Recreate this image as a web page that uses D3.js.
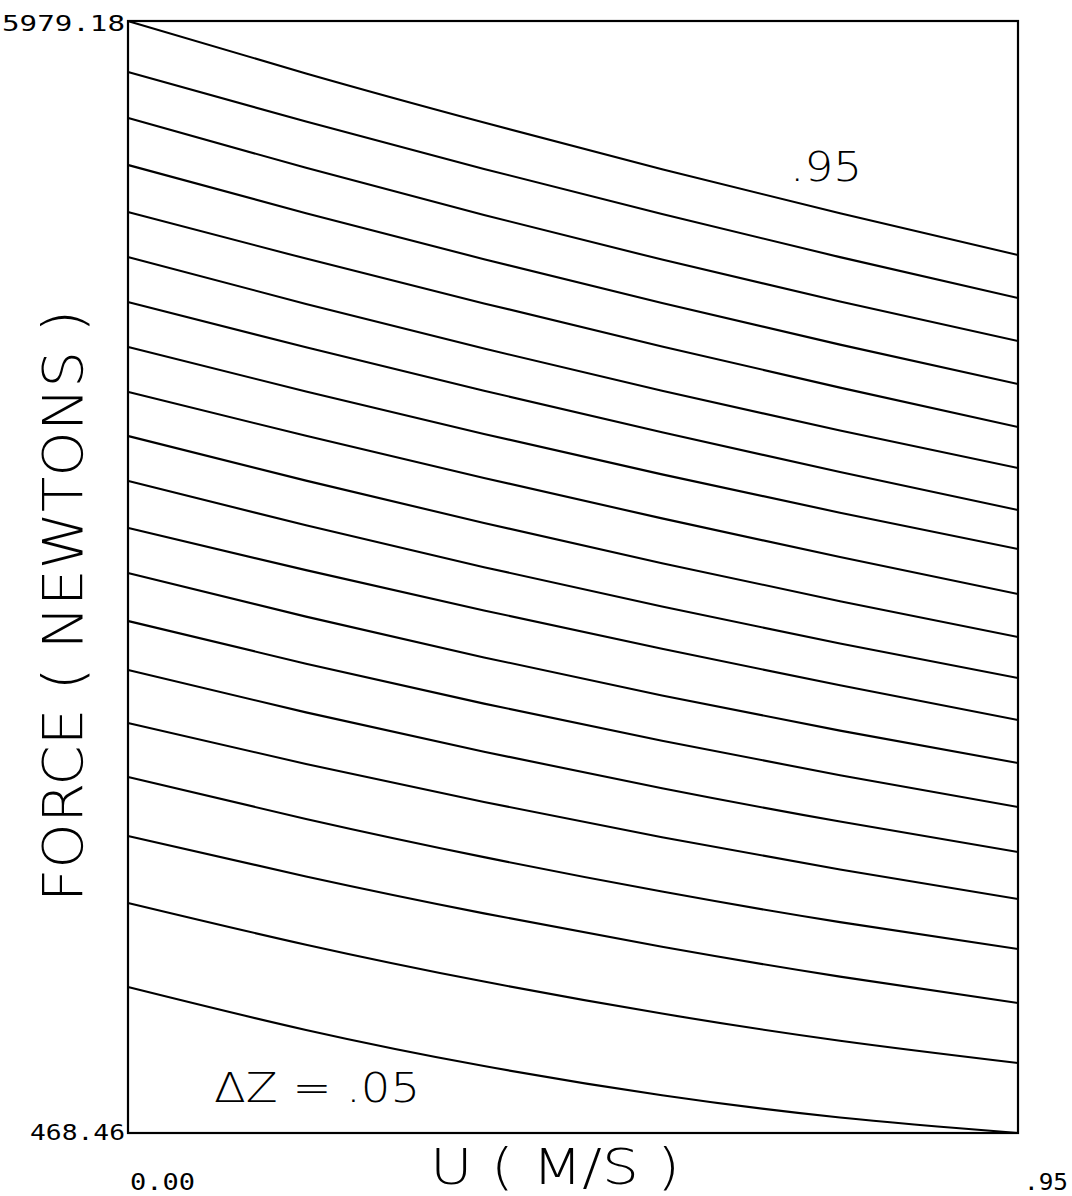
<!DOCTYPE html>
<html>
<head>
<meta charset="utf-8">
<script src="https://cdn.jsdelivr.net/npm/d3@7"></script>
<style>
  html, body { margin: 0; padding: 0; background: #fff; }
  svg { display: block; }
</style>
</head>
<body>
<svg id="chart" width="1072" height="1196"></svg>
<script>
// ---- data ----
const uValues = [0, 0.19, 0.38, 0.57, 0.76, 0.95];           // U (M/S) sample points
const zLevels = [0.95, 0.90, 0.85, 0.80, 0.75, 0.70, 0.65, 0.60, 0.55, 0.50,
                 0.45, 0.40, 0.35, 0.30, 0.25, 0.20, 0.15, 0.10, 0.05, 0.00];
const forceSeries = [
  [5979.2, 5719.0, 5475.8, 5244.9, 5026.2, 4819.6],
  [5726.5, 5481.0, 5246.2, 5022.3, 4809.0, 4606.5],
  [5498.5, 5251.7, 5017.8, 4796.8, 4588.7, 4393.4],
  [5265.6, 5026.7, 4798.7, 4581.7, 4375.5, 4180.3],
  [5032.7, 4801.7, 4579.7, 4366.5, 4162.4, 3967.2],
  [4809.7, 4576.9, 4355.9, 4146.9, 3949.5, 3764.0],
  [4586.7, 4362.2, 4147.0, 3940.8, 3743.8, 3555.9],
  [4363.7, 4143.1, 3932.7, 3732.4, 3542.4, 3362.6],
  [4140.7, 3923.3, 3714.5, 3514.3, 3322.6, 3139.6],
  [3922.6, 3701.5, 3491.4, 3292.2, 3103.9, 2926.5],
  [3699.6, 3480.1, 3272.6, 3077.4, 2894.3, 2723.3],
  [3466.7, 3257.8, 3058.2, 2867.9, 2686.9, 2515.2],
  [3243.7, 3027.5, 2825.3, 2636.9, 2462.5, 2302.1],
  [3005.8, 2794.3, 2596.4, 2412.0, 2241.3, 2084.1],
  [2763.0, 2553.0, 2357.7, 2177.4, 2011.8, 1861.1],
  [2500.3, 2297.3, 2108.6, 1934.2, 1774.0, 1628.1],
  [2232.7, 2024.7, 1835.5, 1665.0, 1513.4, 1380.3],
  [1940.3, 1739.8, 1556.8, 1391.3, 1243.3, 1112.7],
  [1608.3, 1401.6, 1218.8, 1060.3,  925.8,  815.4],
  [1192.0,  979.2,  800.4,  655.8,  545.1,  468.5]
];
const yDomain = [468.46, 5979.18];
const xDomain = [0, 0.95];
const yTickLabels = ["468.46", "5979.18"];
const xTickLabels = ["0.00", ".95"];
const xTitle = "U ( M/S )";
const yTitle = "FORCE ( NEWTONS )";
const topLabel = ".95";
const stepLabel = "\u0394Z = .05";

(function () {
  // ---- layout ----
  const plotLeft = 128, plotRight = 1018, plotTop = 21, plotBottom = 1133;
  const svg = d3.select("#chart");
  const x = d3.scaleLinear().domain(xDomain).range([plotLeft, plotRight]);
  const y = d3.scaleLinear().domain(yDomain).range([plotBottom, plotTop]);

  const line = d3.line()
    .x((d, i) => x(uValues[i]))
    .y(d => y(d))
    .curve(d3.curveNatural);

  svg.append("g")
    .selectAll("path")
    .data(forceSeries)
    .join("path")
    .attr("d", d => line(d))
    .attr("fill", "none")
    .attr("stroke", "#000")
    .attr("stroke-width", 2.1)
    .attr("stroke-linejoin", "round");

  // frame
  svg.append("rect")
    .attr("x", x(xDomain[0])).attr("y", y(yDomain[1]))
    .attr("width", x(xDomain[1]) - x(xDomain[0]))
    .attr("height", y(yDomain[0]) - y(yDomain[1]))
    .attr("fill", "none").attr("stroke", "#000").attr("stroke-width", 2.2);

  const mono = "'DejaVu Sans Mono', 'Liberation Mono', monospace";
  const sans = "'DejaVu Sans', 'Noto Sans', sans-serif";

  function txt(s, xx, yy, size, len, opts = {}) {
    const t = svg.append("text")
      .attr("x", xx).attr("y", yy)
      .attr("font-family", opts.family || mono)
      .attr("font-size", size)
      .attr("font-weight", opts.weight || 400)
      .attr("fill", "#000")
      .attr("textLength", len)
      .attr("lengthAdjust", "spacingAndGlyphs")
      .text(s);
    if (opts.rotate) t.attr("transform", opts.rotate);
    return t;
  }

  // y extremes
  txt(yTickLabels[1], 2, 31, 22, 123);
  txt(yTickLabels[0], 30, 1140, 22, 95);
  // x extremes
  txt(xTickLabels[0], 130, 1190, 23, 65);
  txt(xTickLabels[1], 1024, 1190, 23, 44);

  // axis titles
  txt(xTitle, 430, 1184, 50, 250, {family: sans, weight: 200});
  txt(yTitle, 0, 0, 56, 592, {family: sans, weight: 200,
      rotate: "translate(82,902) rotate(-90)"});

  // annotations
  txt(topLabel, 790, 181, 40, 72, {family: sans, weight: 200});
  txt(stepLabel, 214, 1102, 40, 206, {family: sans, weight: 200});
})();
</script>
</body>
</html>
